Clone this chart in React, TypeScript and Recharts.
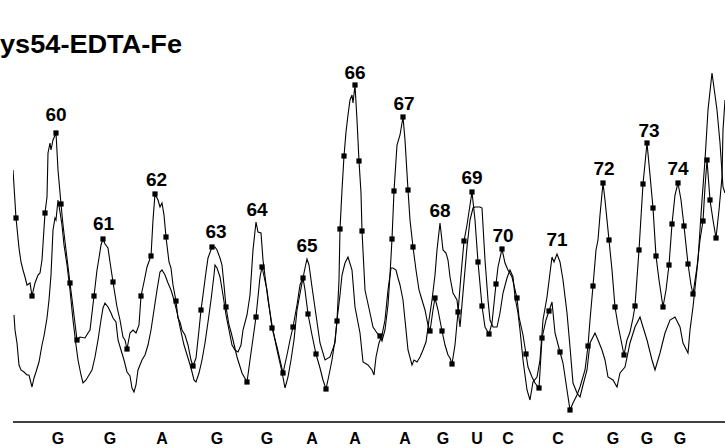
import React from "react";
import { ComposedChart, Line, Scatter, XAxis, YAxis } from "recharts";

// Trace with square markers (x position, intensity)
const traceAX = [13,16,19,21,23,25,27,30,32,35,38,40,42,45,47,48,50,51,53,56,58,61,63,66,70,73,77,80,85,88,90,94,97,99,101,103,105,108,110,113,117,120,123,125,127,130,133,136,139,141,144,147,151,153,155,158,160,162,164,166,169,171,173,176,178,180,182,185,188,191,193,196,199,201,203,206,208,212,215,217,220,222,224,226,229,231,233,237,242,247,250,256,260,262,267,272,277,283,287,290,293,297,300,303,305,308,312,316,320,323,326,329,332,335,337,339,340,342,344,346,348,350,352,353,355,357,359,361,362,365,370,373,377,380,382,385,388,390,392,394,397,400,403,405,408,410,413,416,419,422,425,428,430,433,435,438,442,445,448,450,452,455,458,461,464,467,470,472,475,478,482,485,489,492,496,498,502,505,508,512,517,519,523,526,528,532,535,539,542,546,549,552,555,560,563,567,570,573,577,580,585,588,590,593,596,598,600,603,605,607,609,612,615,618,621,624,627,630,633,635,639,643,647,650,653,656,659,663,666,669,672,675,678,681,684,688,691,693,697,700,703,705,707,710,713,716,719,722,723,725];
const traceAV = [252,204,174,160,152,145,137,139,126,139,147,149,162,209,225,269,279,272,282,289,252,218,197,172,139,115,82,85,84,89,92,126,152,164,177,183,178,174,160,140,115,102,85,82,73,89,92,89,97,126,140,155,166,202,228,222,215,219,207,185,160,154,137,121,104,100,92,87,77,62,56,64,92,112,127,150,164,175,175,172,164,157,137,115,97,90,82,65,49,40,62,105,145,155,132,94,75,49,67,82,95,117,137,144,132,108,87,68,54,42,33,47,62,82,101,142,193,232,266,290,307,322,327,319,337,302,261,229,191,132,109,95,89,86,81,92,117,147,183,231,277,287,305,282,232,202,175,152,132,122,112,97,91,112,124,112,91,77,67,64,58,77,110,147,181,197,217,230,202,160,116,95,88,99,138,155,173,159,152,145,124,105,87,68,55,45,39,34,84,102,111,120,89,70,59,32,12,19,27,35,52,76,102,136,172,182,207,239,222,202,182,152,115,97,82,67,82,90,104,116,172,238,279,247,214,166,142,115,132,157,198,227,239,222,196,158,137,128,155,182,201,235,262,222,202,184,212,245,292,322];
const markerX = [16,32,45,56,61,70,77,94,103,113,127,141,151,155,166,176,193,201,212,226,247,256,262,272,283,293,303,308,316,326,337,340,344,355,359,362,380,392,394,403,408,413,430,435,442,452,458,464,472,478,482,489,496,502,517,526,539,542,549,560,570,588,593,603,609,615,624,635,639,643,647,653,656,663,669,672,678,684,688,693,703,707,710,716];

// Trace without markers
const traceBX = [14,15,17,19,21,24,27,29,32,34,36,39,42,44,47,49,51,53,55,56,58,60,62,64,67,70,73,76,78,81,83,86,89,92,95,98,101,103,105,108,111,113,116,118,121,124,127,130,132,134,136,138,142,145,148,151,154,157,160,162,165,168,171,174,177,180,184,188,191,194,196,199,202,205,208,211,214,215,217,220,223,226,229,232,235,238,241,243,247,250,253,256,258,261,263,268,272,277,282,285,288,291,294,297,302,305,307,309,312,316,320,325,330,335,337,340,342,345,348,352,355,360,363,368,372,374,376,379,382,385,388,391,393,396,398,400,403,406,408,412,414,417,420,423,426,429,432,435,437,440,443,446,448,450,453,457,460,463,467,470,473,475,480,482,485,488,490,493,497,500,503,507,510,513,515,518,520,523,527,530,533,537,540,543,547,552,554,557,560,563,567,570,573,577,580,583,587,590,595,598,602,605,608,613,617,620,625,630,635,640,643,647,652,655,660,665,670,675,680,683,688,690,693,698,702,705,708,712,717,720,723,725];
const traceBV = [107,92,79,57,52,50,47,47,35,44,50,60,77,86,104,122,147,192,204,202,222,210,197,177,157,132,102,77,62,47,39,42,47,52,65,82,102,114,119,115,109,104,100,82,72,62,50,46,34,30,37,52,62,67,77,92,112,132,150,152,147,139,132,122,110,95,77,64,54,42,40,49,62,79,100,122,147,157,154,145,127,107,92,77,72,70,77,92,107,127,172,200,190,189,162,122,97,72,50,34,45,62,82,112,139,154,163,157,135,107,79,62,65,79,102,127,147,159,165,152,115,89,60,57,52,47,65,79,87,102,132,154,154,152,144,137,122,92,72,57,62,60,65,72,80,102,122,147,172,199,172,169,162,145,129,122,95,129,175,202,214,215,215,214,162,122,102,95,95,109,129,144,152,145,125,109,92,62,32,22,40,45,62,102,125,165,160,168,160,142,109,75,39,29,25,37,52,79,89,82,72,62,45,42,35,49,55,79,95,105,95,82,62,52,69,89,102,105,95,79,69,92,115,162,222,262,312,349,312,279,235,229];

// Peak numbers
const peakNums = ["60","61","62","63","64","65","66","67","68","69","70","71","72","73","74"];
const peakX = [56,103.5,156.5,216,257,307,355,404,440,472,503,557,604,649,678];
const peakV = [301,192,236,184,206,170,343,312,205,238,180,176,247,285,247];

// Sequence letters under the axis
const seqLetters = ["G","G","A","G","G","A","A","A","G","U","C","C","G","G","G"];
const seqX = [58,110,162,217,267,312,355,405,443,477,508,558,613,647,680];

const title = "ys54-EDTA-Fe";

const traceA = traceAX.map((x, i) => ({ x, a: traceAV[i] }));
const traceB = traceBX.map((x, i) => ({ x, b: traceBV[i] }));
const markers = traceA.filter((p) => markerX.includes(p.x));
const peakLabels = peakX.map((x, i) => ({ x, v: peakV[i], label: peakNums[i] }));

const FONT = "'Liberation Sans', Arial, Helvetica, sans-serif";

const Square = (props: any) => {
  const { cx, cy } = props;
  if (cx == null || cy == null) return null;
  return <rect x={cx - 2.6} y={cy - 2.6} width={5.2} height={5.2} fill="#000" />;
};

const PeakText = (props: any) => {
  const { cx, cy, payload } = props;
  if (cx == null || cy == null) return null;
  return (
    <text x={cx} y={cy} textAnchor="middle" fontFamily={FONT} fontWeight="bold" fontSize={19} fill="#000">
      {payload.label}
    </text>
  );
};

const LetterTick = (props: any) => {
  const { x, y, index } = props;
  return (
    <text x={x} y={y + 22} textAnchor="middle" fontFamily={FONT} fontWeight="bold" fontSize={16} fill="#000">
      {seqLetters[index]}
    </text>
  );
};

export default function App() {
  return (
    <div style={{ position: "absolute", left: 0, top: 0, width: 725, height: 448, background: "#fff", overflow: "hidden" }}>
      <ComposedChart width={725} height={448} margin={{ top: 0, right: 0, bottom: 0, left: 13 }}>
        <XAxis
          dataKey="x"
          type="number"
          domain={[13, 725]}
          allowDataOverflow
          ticks={seqX}
          interval={0}
          tick={LetterTick}
          tickLine={false}
          tickSize={0}
          tickMargin={0}
          height={26}
          axisLine={{ stroke: "#000", strokeWidth: 1.6 }}
        />
        <YAxis hide type="number" domain={[0, 422]} allowDataOverflow width={0} />
        <Line data={traceB} dataKey="b" type="linear" stroke="#000" strokeWidth={1.1} dot={false} isAnimationActive={false} />
        <Line data={traceA} dataKey="a" type="linear" stroke="#000" strokeWidth={1.1} dot={false} isAnimationActive={false} />
        <Scatter data={markers} dataKey="a" shape={Square} isAnimationActive={false} />
        <Scatter data={peakLabels} dataKey="v" shape={PeakText} isAnimationActive={false} />
      </ComposedChart>
      <svg width={725} height={70} style={{ position: "absolute", left: 0, top: 0 }}>
        <text x={0} y={53} fontFamily={FONT} fontWeight="bold" fontSize={25} fill="#000" textLength={182} lengthAdjust="spacingAndGlyphs">
          {title}
        </text>
      </svg>
    </div>
  );
}
